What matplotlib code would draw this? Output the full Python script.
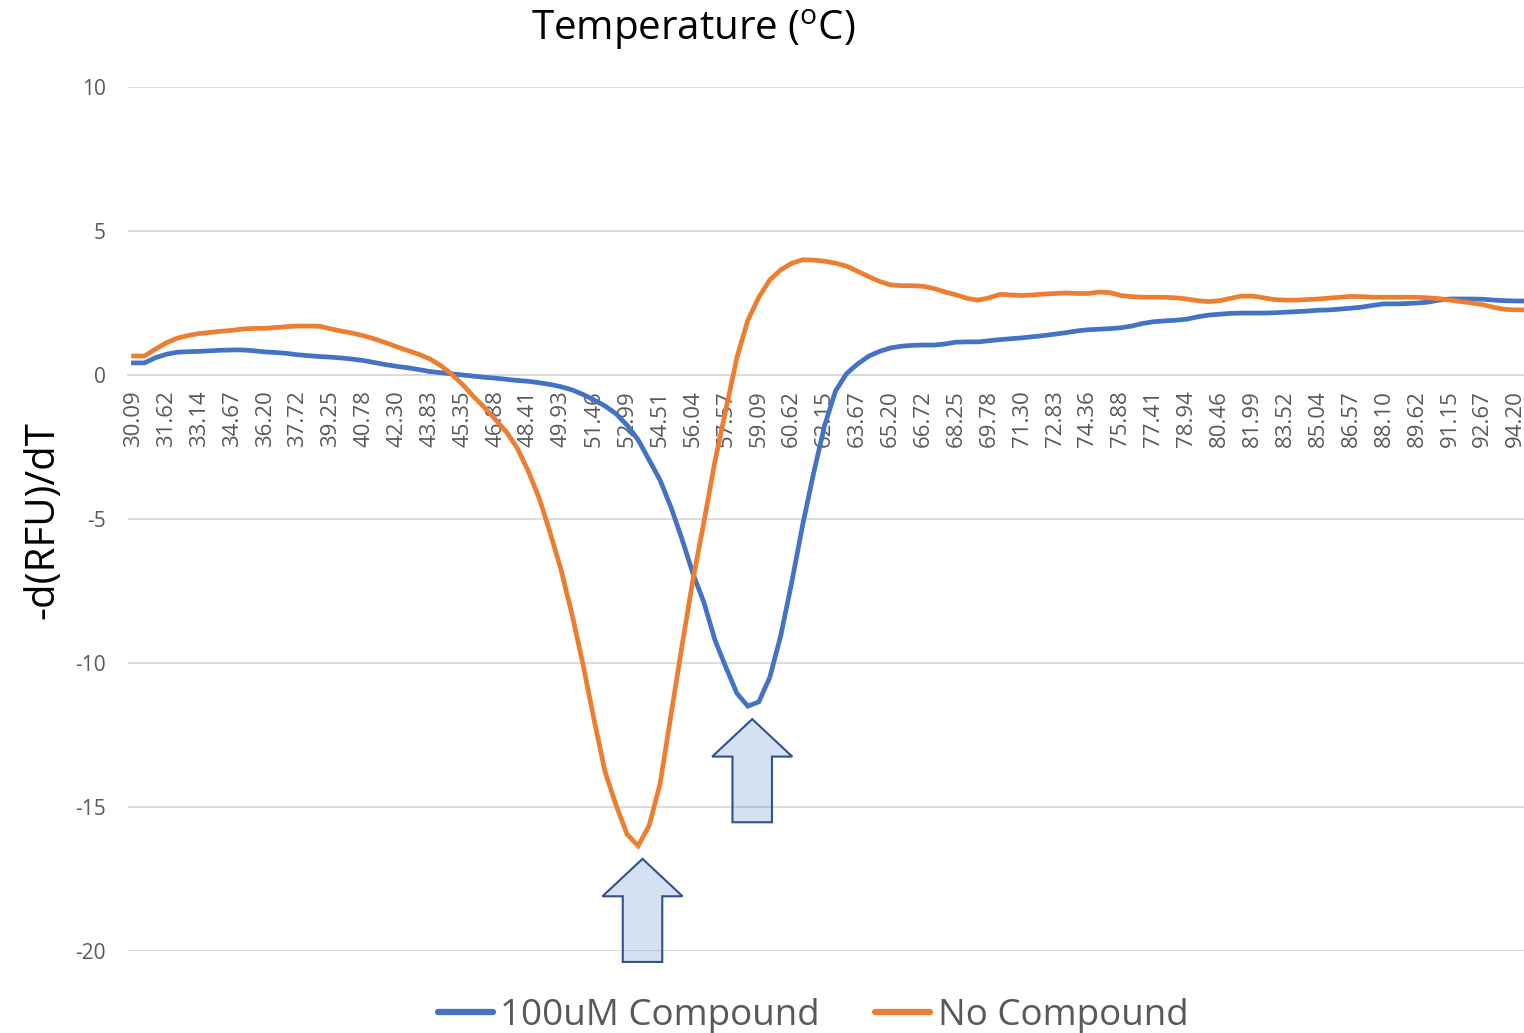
import numpy as np
import matplotlib
matplotlib.use("Agg")
import matplotlib.pyplot as plt
from matplotlib.lines import Line2D
from matplotlib.patches import Polygon

# temperature categories that carry a label (every 3rd point)
tick_labels = ["30.09", "31.62", "33.14", "34.67", "36.20", "37.72", "39.25", "40.78",
               "42.30", "43.83", "45.35", "46.88", "48.41", "49.93", "51.46", "52.99",
               "54.51", "56.04", "57.57", "59.09", "60.62", "62.15", "63.67", "65.20",
               "66.72", "68.25", "69.78", "71.30", "72.83", "74.36", "75.88", "77.41",
               "78.94", "80.46", "81.99", "83.52", "85.04", "86.57", "88.10", "89.62",
               "91.15", "92.67", "94.20"]

# -d(RFU)/dT, one value per temperature step
compound_100um = [
    0.42, 0.42, 0.60, 0.72, 0.79, 0.81, 0.82, 0.84, 0.86, 0.87,
    0.87, 0.84, 0.80, 0.78, 0.75, 0.70, 0.67, 0.64, 0.62, 0.59,
    0.55, 0.50, 0.43, 0.36, 0.30, 0.25, 0.19, 0.12, 0.08, 0.04,
    0.00, -0.04, -0.08, -0.11, -0.15, -0.19, -0.22, -0.27, -0.33, -0.41,
    -0.52, -0.68, -0.87, -1.08, -1.35, -1.75, -2.25, -2.95, -3.65, -4.60,
    -5.70, -6.90, -7.90, -9.20, -10.15, -11.05, -11.50, -11.35, -10.50, -9.05,
    -7.20, -5.20, -3.40, -1.75, -0.55, 0.05, 0.38, 0.65, 0.82, 0.94,
    1.00, 1.03, 1.04, 1.04, 1.08, 1.14, 1.15, 1.15, 1.19, 1.23,
    1.26, 1.29, 1.33, 1.37, 1.42, 1.47, 1.53, 1.57, 1.59, 1.61,
    1.64, 1.70, 1.79, 1.85, 1.88, 1.90, 1.94, 2.02, 2.08, 2.11,
    2.14, 2.15, 2.15, 2.15, 2.16, 2.18, 2.20, 2.22, 2.25, 2.26,
    2.29, 2.32, 2.36, 2.42, 2.47, 2.47, 2.48, 2.50, 2.53, 2.60,
    2.64, 2.64, 2.64, 2.63, 2.60, 2.58, 2.57, 2.57]

no_compound = [
    0.66, 0.66, 0.90, 1.12, 1.28, 1.37, 1.44, 1.48, 1.52, 1.55,
    1.60, 1.62, 1.62, 1.65, 1.68, 1.70, 1.70, 1.69, 1.60, 1.52,
    1.45, 1.36, 1.25, 1.12, 0.98, 0.85, 0.72, 0.56, 0.33, 0.03,
    -0.33, -0.75, -1.13, -1.55, -1.98, -2.55, -3.35, -4.30, -5.50, -6.80,
    -8.35, -10.10, -12.00, -13.80, -14.95, -15.95, -16.35, -15.65, -14.20, -11.80,
    -9.40, -7.10, -5.10, -3.00, -1.20, 0.60, 1.90, 2.70, 3.30, 3.65,
    3.88, 4.00, 3.99, 3.95, 3.88, 3.78, 3.60, 3.42, 3.25, 3.13,
    3.10, 3.10, 3.08, 3.00, 2.88, 2.78, 2.66, 2.60, 2.68, 2.80,
    2.78, 2.76, 2.78, 2.81, 2.83, 2.85, 2.83, 2.83, 2.88, 2.86,
    2.76, 2.72, 2.70, 2.70, 2.70, 2.68, 2.64, 2.58, 2.55, 2.58,
    2.66, 2.74, 2.74, 2.68, 2.62, 2.60, 2.60, 2.62, 2.64, 2.67,
    2.70, 2.73, 2.72, 2.70, 2.70, 2.70, 2.70, 2.70, 2.68, 2.65,
    2.60, 2.55, 2.50, 2.44, 2.35, 2.28, 2.26, 2.26]

series_names = ["100uM Compound", "No Compound"]
series_colors = ["#4472C4", "#ED7D31"]

plt.rcParams['font.family'] = ['Open Sans', 'DejaVu Sans']
plt.rcParams['mathtext.default'] = 'regular'
plt.rcParams['axes.unicode_minus'] = False

GRID = "#D9D9D9"
TEXT = "#595959"


def draw_up_arrow(ax, x_tip, y_tip):
    '''
    block arrow pointing up at a melting minimum
    '''
    head_h, total_h = 1.3, 3.58
    head_w, shaft_w = 3.65, 1.8
    pts = [(x_tip, y_tip),
           (x_tip + head_w, y_tip - head_h),
           (x_tip + shaft_w, y_tip - head_h),
           (x_tip + shaft_w, y_tip - total_h),
           (x_tip - shaft_w, y_tip - total_h),
           (x_tip - shaft_w, y_tip - head_h),
           (x_tip - head_w, y_tip - head_h)]
    ax.add_patch(Polygon(pts, closed=True, facecolor=(0.267, 0.447, 0.769, 0.22),
                         edgecolor="#2F528F", linewidth=1.5, clip_on=False, zorder=4))


fig = plt.figure(figsize=(15.24, 10.33), dpi=100)
ax = fig.add_axes([128 / 1524, 1 - 951 / 1033, (1524 - 128) / 1524, (951 - 87) / 1033])

for values, name, color in zip([compound_100um, no_compound], series_names, series_colors):
    x = np.arange(len(values))
    ax.plot(x, values, color=color, linewidth=3.4, solid_joinstyle='miter', label=name, zorder=3)

ax.grid(axis='y', color=GRID, linewidth=1.3, zorder=0)
for side in ['top', 'right', 'left']:
    ax.spines[side].set_visible(False)
ax.spines['bottom'].set_position(('data', 0))
ax.spines['bottom'].set_color(GRID)
ax.spines['bottom'].set_linewidth(1.3)

ax.set_xlim(-0.5, 126.75)
ax.set_ylim(-20, 10)
ax.set_yticks([-20, -15, -10, -5, 0, 5, 10])
ax.set_xticks(np.arange(0, 3 * len(tick_labels), 3))
ax.set_xticklabels(tick_labels)
ax.tick_params(axis='x', length=0, pad=11, labelsize=16, labelcolor=TEXT, labelrotation=90)
ax.tick_params(axis='y', length=0, pad=16, labelsize=15, labelcolor=TEXT)

# arrows under each minimum
for values in [no_compound, compound_100um]:
    i_min = int(np.argmin(values))
    draw_up_arrow(ax, i_min + 0.4, values[i_min] - 0.45)

fig.text(693 / 1524, 1 - 30 / 1033, "Temperature ($^{o}$C)", ha='center', va='center',
         fontsize=29, color='black')
fig.text(43 / 1524, 1 - 520 / 1033, "-d(RFU)/dT", ha='center', va='center',
         rotation=90, fontsize=29, color='black')

handles = [Line2D([], [], color=c, linewidth=4.5, solid_capstyle='round') for c in series_colors]
fig.legend(handles, series_names, loc='center', bbox_to_anchor=(813 / 1524, 1 - 1016 / 1033),
           ncol=2, frameon=False, fontsize=26.5, handlelength=1.5, handletextpad=0.2,
           columnspacing=1.5, labelcolor=TEXT)

fig.savefig("out.png", dpi=100)
